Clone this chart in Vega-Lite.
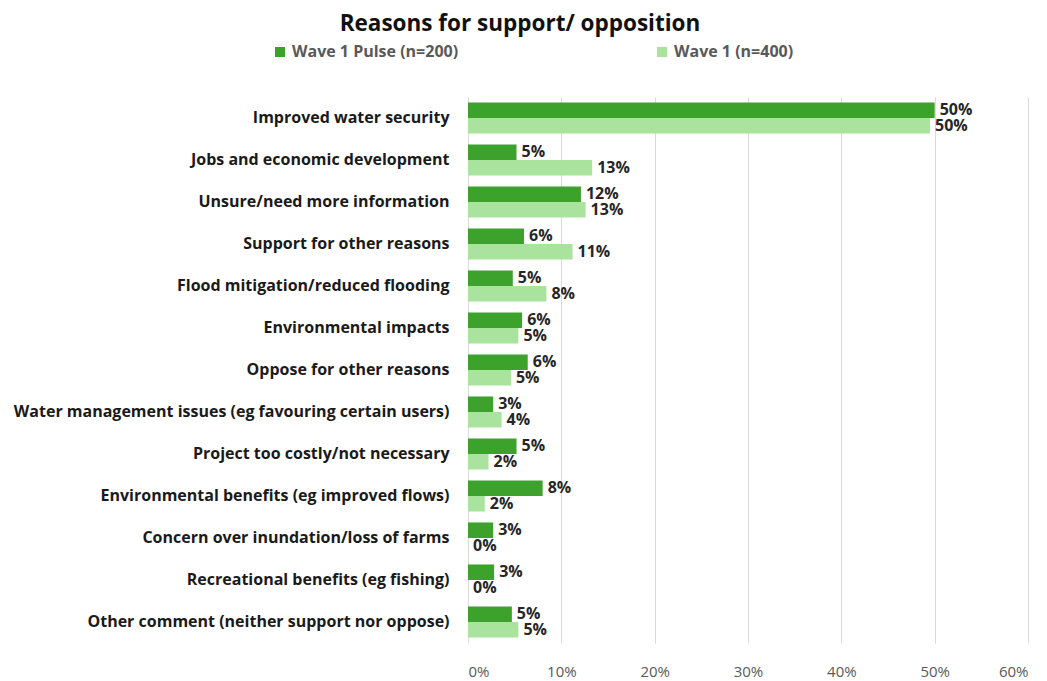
{
  "$schema": "https://vega.github.io/schema/vega-lite/v6.json",
  "width": 560,
  "height": 546,
  "autosize": {"type": "none"},
  "padding": {"left": 468, "top": 97, "right": 19, "bottom": 38},
  "background": "white",
  "config": {"view": {"stroke": null}, "font": "Open Sans"},
  "title": {
    "text": "Reasons for support/ opposition",
    "fontSize": 22.5,
    "font": "Open Sans",
    "fontWeight": "bold",
    "color": "#111111",
    "anchor": "middle",
    "frame": "group",
    "dx": -228,
    "offset": 9
  },
  "data": {
    "values": [
      {"reason": "Improved water security", "series": "Wave 1 Pulse (n=200)", "value": 0.500},
      {"reason": "Improved water security", "series": "Wave 1 (n=400)", "value": 0.495},
      {"reason": "Jobs and economic development", "series": "Wave 1 Pulse (n=200)", "value": 0.052},
      {"reason": "Jobs and economic development", "series": "Wave 1 (n=400)", "value": 0.133},
      {"reason": "Unsure/need more information", "series": "Wave 1 Pulse (n=200)", "value": 0.121},
      {"reason": "Unsure/need more information", "series": "Wave 1 (n=400)", "value": 0.126},
      {"reason": "Support for other reasons", "series": "Wave 1 Pulse (n=200)", "value": 0.060},
      {"reason": "Support for other reasons", "series": "Wave 1 (n=400)", "value": 0.112},
      {"reason": "Flood mitigation/reduced flooding", "series": "Wave 1 Pulse (n=200)", "value": 0.048},
      {"reason": "Flood mitigation/reduced flooding", "series": "Wave 1 (n=400)", "value": 0.084},
      {"reason": "Environmental impacts", "series": "Wave 1 Pulse (n=200)", "value": 0.058},
      {"reason": "Environmental impacts", "series": "Wave 1 (n=400)", "value": 0.054},
      {"reason": "Oppose for other reasons", "series": "Wave 1 Pulse (n=200)", "value": 0.064},
      {"reason": "Oppose for other reasons", "series": "Wave 1 (n=400)", "value": 0.046},
      {"reason": "Water management issues (eg favouring certain users)", "series": "Wave 1 Pulse (n=200)", "value": 0.027},
      {"reason": "Water management issues (eg favouring certain users)", "series": "Wave 1 (n=400)", "value": 0.036},
      {"reason": "Project too costly/not necessary", "series": "Wave 1 Pulse (n=200)", "value": 0.052},
      {"reason": "Project too costly/not necessary", "series": "Wave 1 (n=400)", "value": 0.022},
      {"reason": "Environmental benefits (eg improved flows)", "series": "Wave 1 Pulse (n=200)", "value": 0.080},
      {"reason": "Environmental benefits (eg improved flows)", "series": "Wave 1 (n=400)", "value": 0.018},
      {"reason": "Concern over inundation/loss of farms", "series": "Wave 1 Pulse (n=200)", "value": 0.027},
      {"reason": "Concern over inundation/loss of farms", "series": "Wave 1 (n=400)", "value": 0.0},
      {"reason": "Recreational benefits (eg fishing)", "series": "Wave 1 Pulse (n=200)", "value": 0.028},
      {"reason": "Recreational benefits (eg fishing)", "series": "Wave 1 (n=400)", "value": 0.0},
      {"reason": "Other comment (neither support nor oppose)", "series": "Wave 1 Pulse (n=200)", "value": 0.047},
      {"reason": "Other comment (neither support nor oppose)", "series": "Wave 1 (n=400)", "value": 0.054}
    ]
  },
  "encoding": {
    "y": {
      "field": "reason",
      "type": "nominal",
      "sort": null,
      "scale": {"paddingInner": 0.26, "paddingOuter": 0.13},
      "axis": {
        "title": null,
        "domain": false,
        "ticks": false,
        "labelFontSize": 16,
        "labelFont": "Open Sans",
        "labelFontWeight": "bold",
        "labelColor": "#1a1a1a",
        "labelPadding": 19,
        "labelLimit": 500
      }
    },
    "yOffset": {
      "field": "series",
      "type": "nominal",
      "sort": ["Wave 1 Pulse (n=200)", "Wave 1 (n=400)"]
    },
    "x": {
      "field": "value",
      "type": "quantitative",
      "scale": {"domain": [0, 0.6], "nice": false},
      "axis": {
        "title": null,
        "format": ".0%",
        "values": [0, 0.1, 0.2, 0.3, 0.4, 0.5, 0.6],
        "domain": false,
        "ticks": false,
        "grid": true,
        "gridColor": "#d9d9d9",
        "gridWidth": 1,
        "labelFontSize": 15,
        "labelFont": "Open Sans",
        "labelColor": "#595959",
        "labelPadding": 21
      }
    }
  },
  "layer": [
    {
      "mark": {"type": "bar"},
      "encoding": {
        "color": {
          "field": "series",
          "type": "nominal",
          "sort": ["Wave 1 Pulse (n=200)", "Wave 1 (n=400)"],
          "scale": {"domain": ["Wave 1 Pulse (n=200)", "Wave 1 (n=400)"], "range": ["#3da22c", "#a9e39e"]},
          "legend": {
            "title": null,
            "orient": "none",
            "legendX": -196,
            "legendY": -53,
            "direction": "horizontal",
            "columns": 2,
            "columnPadding": 195,
            "symbolType": "square",
            "symbolSize": 100,
            "symbolStrokeWidth": 0,
            "labelFontSize": 16,
            "labelFont": "Open Sans",
            "labelFontWeight": "bold",
            "labelColor": "#595959",
            "labelLimit": 300
          }
        }
      }
    },
    {
      "mark": {"type": "text", "align": "left", "dx": 5, "fontSize": 16, "font": "Open Sans", "fontWeight": "bold", "color": "#262626"},
      "encoding": {
        "text": {"field": "value", "type": "quantitative", "format": ".0%"}
      }
    }
  ]
}
